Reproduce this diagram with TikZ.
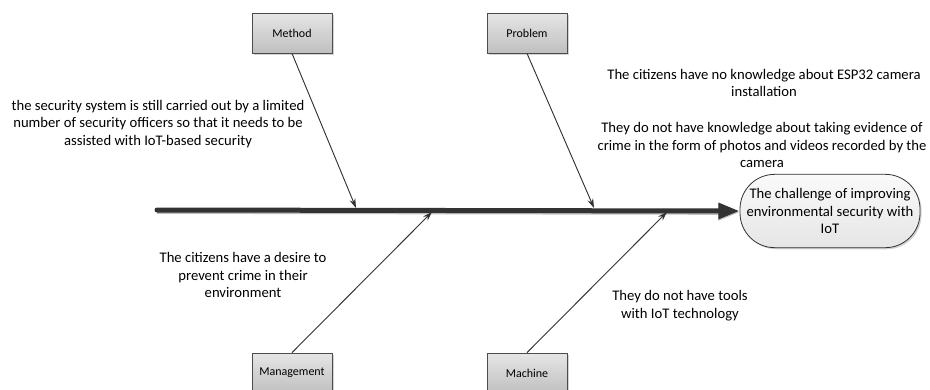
\documentclass[tikz,border=0pt]{standalone}
\usepackage{fontspec}
\setmainfont{Carlito}
\usetikzlibrary{arrows.meta,shadows,shapes.misc}
\begin{document}
\begin{tikzpicture}[x=0.75pt,y=-0.75pt,
    cause/.style={draw=black!70,line width=0.6pt,top color=black!10,bottom color=black!25,
      minimum width=60pt,minimum height=30pt,font=\fontsize{9}{11}\selectfont,
      drop shadow={shadow xshift=1.2pt,shadow yshift=-1.2pt,opacity=0.35}},
    effect/.style={draw=black!80,line width=0.6pt,rounded corners=26pt,
      top color=black!2,bottom color=black!10,minimum width=135pt,minimum height=55pt,
      align=center,font=\fontsize{11}{13.4}\selectfont,
      drop shadow={shadow xshift=1.2pt,shadow yshift=-1.2pt,opacity=0.35}},
    note/.style={align=center,font=\fontsize{11}{13.4}\selectfont,inner sep=0pt},
    bone/.style={draw=black!80,line width=0.7pt,-{Stealth[length=7pt,width=4.5pt]}}]
  \useasboundingbox (0,0) rectangle (930,389);
  \clip (0,0) rectangle (930,389);
  \draw
    (292,33) node[cause] (method){Method}
    (527,33) node[cause] (problem){Problem}
    (292,373) node[cause] (management){Management}
    (527,373) node[cause] (machine){Machine}
    (830,211) node[effect] (challenge){The challenge of improving\\environmental security with\\IoT};
  \coordinate (tail) at (157,210);
  \coordinate (m1) at (356,208);
  \coordinate (p1) at (594,208);
  \coordinate (g1) at (432,212);
  \coordinate (c1) at (667,212);
  \draw[black!80,line width=3.75pt,line cap=round,
      -{Triangle[length=16pt,width=11.5pt]},
      preaction={draw=black!25,line width=3.75pt,transform canvas={yshift=-1pt},-{Triangle[length=16pt,width=11.5pt]}}]
    (tail) -- (challenge.west);
  \begin{scope}[bone]
    \draw (method.south) to (m1);
    \draw (problem.south) to (p1);
    \draw (management.north) to (g1);
    \draw (machine.north) to (c1);
  \end{scope}
  \node[note] (n1) at (158,124) {the security system is still carried out by a limited\\number of security officers so that it needs to be\\assisted with IoT-based security};
  \node[note] (n2) at (764,83) {The citizens have no knowledge about ESP32 camera\\installation};
  \node[note] (n3) at (762,145) {They do not have knowledge about taking evidence of\\crime in the form of photos and videos recorded by the\\camera};
  \node[note] (n4) at (243,275) {The citizens have a desire to\\prevent crime in their\\environment};
  \node[note] (n5) at (680,306) {They do not have tools\\with IoT technology};
\end{tikzpicture}
\end{document}
